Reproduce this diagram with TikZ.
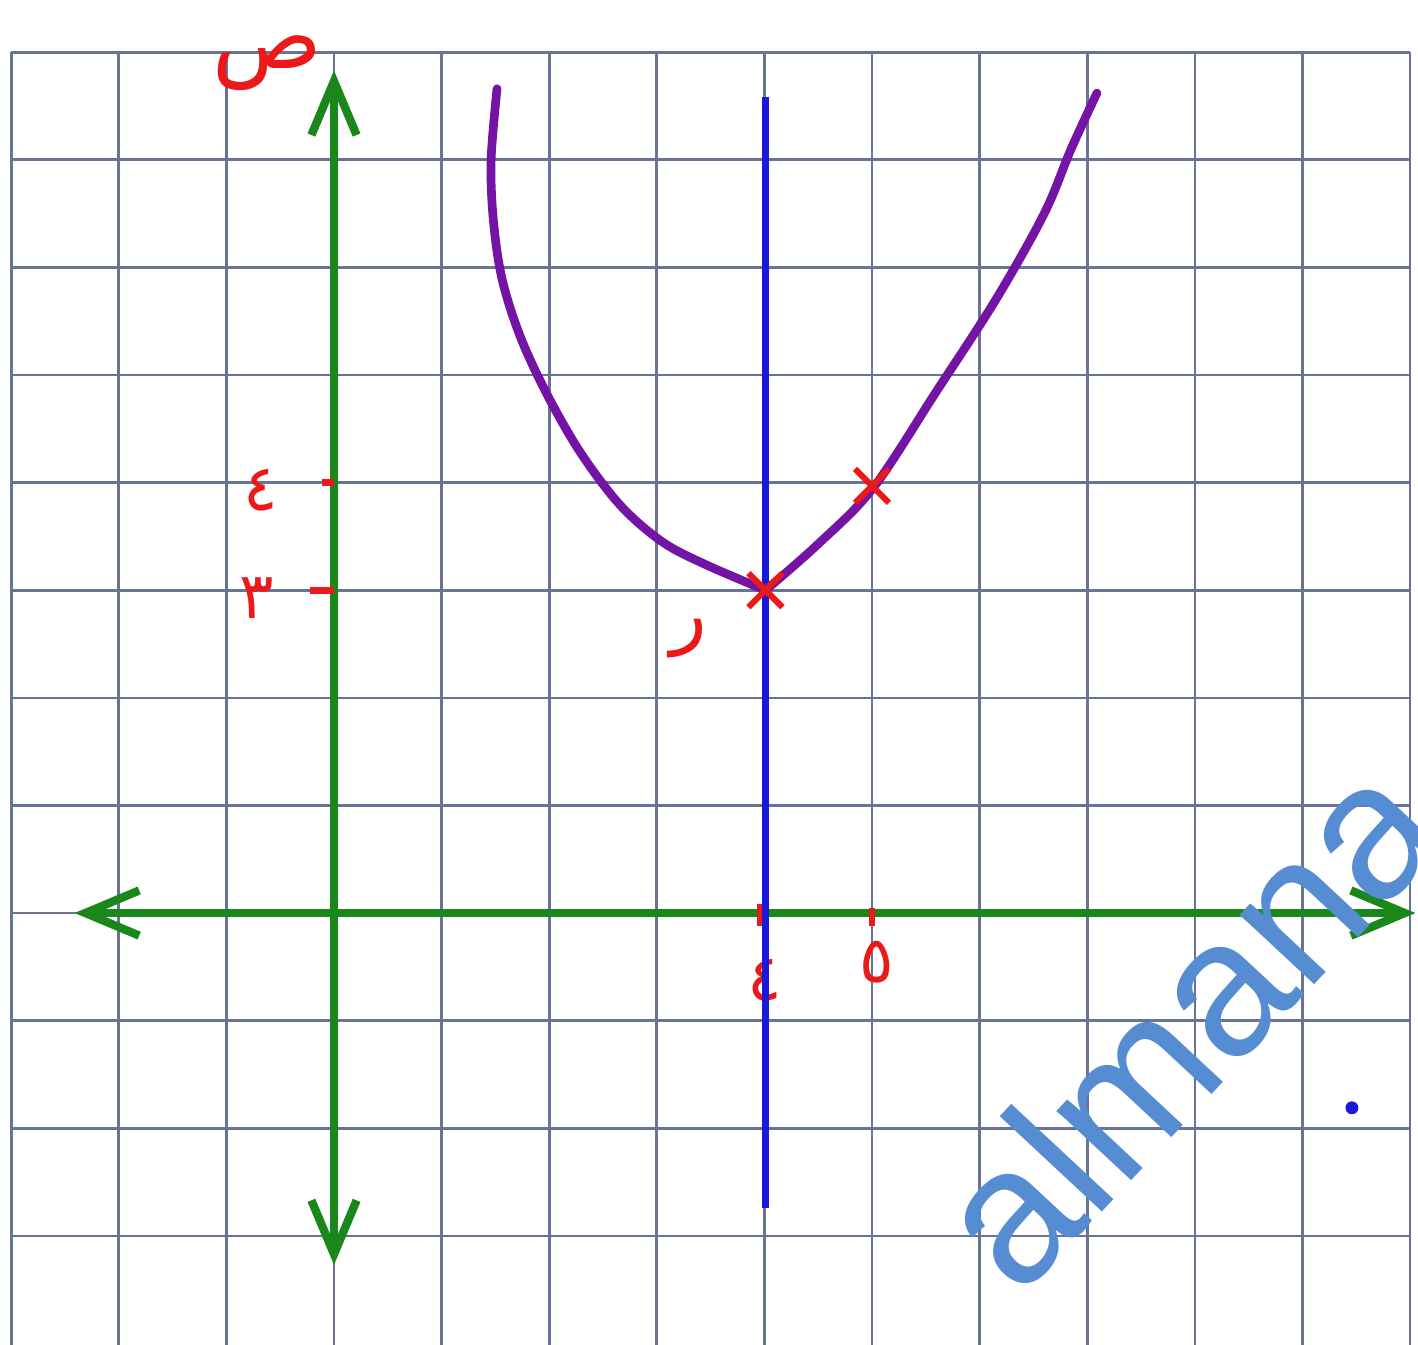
\documentclass[tikz,border=0pt]{standalone}
\usepackage{fontspec}
\newfontfamily\arabicfont[Script=Arabic]{DejaVu Sans}
\newfontfamily\wmfont{Liberation Sans}
\TeXXeTstate=1
\usepackage{tikz}
\usetikzlibrary{arrows.meta,shapes.misc}
\definecolor{pengreen}{RGB}{25,135,25}
\definecolor{penblue}{RGB}{25,25,215}
\definecolor{penpurple}{RGB}{115,20,165}
\definecolor{penred}{RGB}{235,25,25}
\definecolor{gridgray}{RGB}{105,115,150}
\definecolor{markblue}{RGB}{85,140,210}

\begin{document}
\begin{tikzpicture}[
        >={Straight Barb[length=5mm,width=4.2mm]},
        gridline/.style={draw=gridgray, line width=0.7pt},
        axis/.style={draw=pengreen, line width=2.2pt, line cap=round, <->},
        sym/.style={draw=penblue, line width=2pt},
        curve/.style={draw=penpurple, line width=2.3pt, line cap=round, line join=round},
        tick/.style={draw=penred, line width=1.8pt},
        xmark/.style={draw=penred, cross out, line width=1.6pt, minimum size=2.6mm, inner sep=0pt},
        lbl/.style={text=penred, inner sep=1pt, font=\arabicfont\fontsize{17}{19}\selectfont},
        watermark/.style={text=markblue, inner sep=0pt, font=\wmfont\fontsize{51}{54}\selectfont}
    ]
        \useasboundingbox[fill=white] (-3.104,-4.006) rectangle (10.074,8.485);
        \foreach \x in {-3,...,10} \draw[gridline] (\x,-4.1) -- (\x,8);
        \foreach \y in {-3,...,8} \draw[gridline] (-3,\y) -- (10,\y);
        \coordinate (xleft) at (-2.41,0);
        \coordinate (xright) at (10.05,0);
        \coordinate (ybottom) at (0,-3.27);
        \coordinate (ytop) at (0,7.83);
        \coordinate (symtop) at (4.01,7.58);
        \coordinate (symbottom) at (4.01,-2.74);
        \draw[axis] (xleft) -- (xright);
        \draw[axis] (ybottom) -- (ytop);
        \draw[tick] (-0.11,4) -- (0,4);
        \draw[tick] (-0.22,3) -- (0,3);
        \draw[tick] (3.96,0.08) -- (3.96,-0.12);
        \draw[tick] (5,0.05) -- (5,-0.12);
        \node[lbl] (labelfour) at (-0.68,3.93) {\beginR ٤\endR};
        \node[lbl] (labelthree) at (-0.72,2.93) {\beginR ٣\endR};
        \node[lbl] (labelxfour) at (4.0,-0.62) {\beginR ٤\endR};
        \node[lbl] (labelxfive) at (5.04,-0.46) {\beginR ٥\endR};
        \node[lbl, font=\arabicfont\fontsize{20}{22}\selectfont] (labelvertex) at (3.3,2.55) {\beginR ر\endR};
        \node[lbl, font=\arabicfont\fontsize{24}{26}\selectfont] (labely) at (-0.62,7.9) {\beginR ص\endR};
        \draw[sym] (symtop) -- (symbottom);
        \draw[curve] plot[smooth, tension=0.55] coordinates {(4.01,3.0) (3.45,3.24) (3.05,3.45) (2.66,3.79) (2.29,4.28) (1.98,4.82) (1.73,5.36) (1.56,5.9) (1.48,6.45) (1.46,7.0) (1.515,7.66)};
        \draw[curve] plot[smooth, tension=0.55] coordinates {(4.01,3.0) (4.5,3.43) (5.01,3.95) (5.6,4.85) (6.15,5.7) (6.6,6.5) (6.85,7.1) (7.09,7.62)};
        \node[xmark] (vertex) at (4.01,3.0) {};
        \node[xmark] (pointfive) at (5.0,3.97) {};
        \node[circle, fill=penblue, inner sep=0pt, minimum size=1.2mm] (spot) at (9.46,-1.81) {};
        \node[watermark, anchor=base west, rotate=47] (brand) at (6.37,-3.6) {almana};
    \end{tikzpicture}
\end{document}
